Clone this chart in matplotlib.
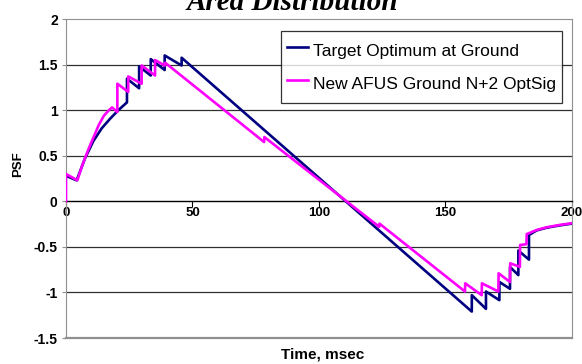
import matplotlib.pyplot as plt
import numpy as np

plt.rcParams['font.family'] = ['Liberation Sans', 'DejaVu Sans']

# target optimum (navy)
target_t = [0, 4.2, 7.5, 10.8, 14.1, 17.4, 20.7, 24.1, 24.1, 28.9, 28.9, 33.5, 33.5,
            39.0, 39.0, 45.7, 45.7, 160.4, 160.4, 166.0, 166.0, 171.3, 171.3,
            175.5, 175.5, 178.8, 178.8, 183.0, 183.0, 186.0, 190.0, 195.0, 200.0]
target_p = [0.28, 0.23, 0.47, 0.66, 0.80, 0.905, 1.0, 1.085, 1.345, 1.24, 1.48, 1.38, 1.56,
            1.44, 1.60, 1.49, 1.575, -1.21, -1.03, -1.18, -0.99, -1.085, -0.885,
            -0.96, -0.72, -0.81, -0.54, -0.64, -0.37, -0.32, -0.29, -0.265, -0.245]

# new AFUS ground signature (magenta)
afus_t = [0, 0, 4.5, 6.5, 9.0, 11.0, 13.0, 15.0, 17.0, 18.2, 20.3, 20.3, 24.6, 24.6,
          29.9, 29.9, 35.2, 35.2, 39.0, 39.2, 78.3, 78.4, 123.8, 123.9, 157.7, 157.8,
          164.3, 164.4, 170.9, 171.0, 175.5, 175.6, 179.4, 179.5, 182.0, 182.1,
          186.0, 190.0, 195.0, 200.0]
afus_p = [0.0, 0.30, 0.23, 0.40, 0.58, 0.71, 0.84, 0.94, 1.00, 1.03, 0.98, 1.29, 1.20, 1.37,
          1.29, 1.49, 1.38, 1.55, 1.49, 1.52, 0.65, 0.705, -0.28, -0.245, -0.99, -0.90,
          -1.03, -0.90, -0.99, -0.79, -0.885, -0.68, -0.72, -0.48, -0.47, -0.36,
          -0.315, -0.285, -0.26, -0.24]

x_ticks = [0, 50, 100, 150, 200]
y_ticks = [-1.5, -1, -0.5, 0, 0.5, 1, 1.5, 2]
y_labels = ['-1.5', '-1', '-0.5', '0', '0.5', '1', '1.5', '2']

fig = plt.figure(figsize=(5.82, 3.64), dpi=100)
ax = fig.add_axes([0.1134, 0.0714, 0.8694, 0.8764])

# horizontal gridlines
for v in [-1, -0.5, 0.5, 1, 1.5]:
    ax.axhline(v, color='#303030', linewidth=0.9, zorder=1)

ax.plot(target_t, target_p, color='#000080', linewidth=1.9, zorder=3,
        label='Target Optimum at Ground')
ax.plot(afus_t, afus_p, color='#ff00ff', linewidth=1.9, zorder=4,
        label='New AFUS Ground N+2 OptSig')

ax.set_xlim(0, 200)
ax.set_ylim(-1.5, 2)

# excel style: x axis sits at zero
ax.spines['bottom'].set_position(('data', 0))
ax.spines['bottom'].set_color('black')
ax.spines['bottom'].set_linewidth(1.0)
for s in ['top', 'right', 'left']:
    ax.spines[s].set_color('#909090')
ax.axhline(-1.5, color='#909090', linewidth=1.6, zorder=2, clip_on=False)

ax.set_xticks(x_ticks)
ax.set_xticklabels([str(v) for v in x_ticks], fontsize=9.5, fontweight='bold')
ax.set_yticks(y_ticks)
ax.set_yticklabels(y_labels, fontsize=10, fontweight='bold')
ax.tick_params(axis='x', direction='out', length=4, pad=0, colors='black')
ax.tick_params(axis='y', direction='out', length=3, pad=3, color='#909090')

fig.text(0.031, 0.55, 'PSF', rotation=90, fontsize=9.5, fontweight='bold',
         ha='center', va='center')
fig.text(0.555, 0.025, 'Time, msec', fontsize=11, fontweight='bold',
         ha='center', va='center')
fig.text(0.502, 1 - 10 / 364, 'Area Distribution', fontsize=21, fontweight='bold',
         fontstyle='italic', family=['Liberation Serif', 'DejaVu Serif'],
         ha='center', va='baseline')

leg = ax.legend(loc='upper right', bbox_to_anchor=(562 / 582, 1 - 31 / 364),
                bbox_transform=fig.transFigure, borderaxespad=0, fontsize=12.5,
                frameon=True, fancybox=False, edgecolor='black', borderpad=0.35,
                handlelength=1.2, handletextpad=0.3, handleheight=2.0,
                labelspacing=0.36)
leg.get_frame().set_linewidth(0.9)

fig.savefig('out.png', dpi=100)
